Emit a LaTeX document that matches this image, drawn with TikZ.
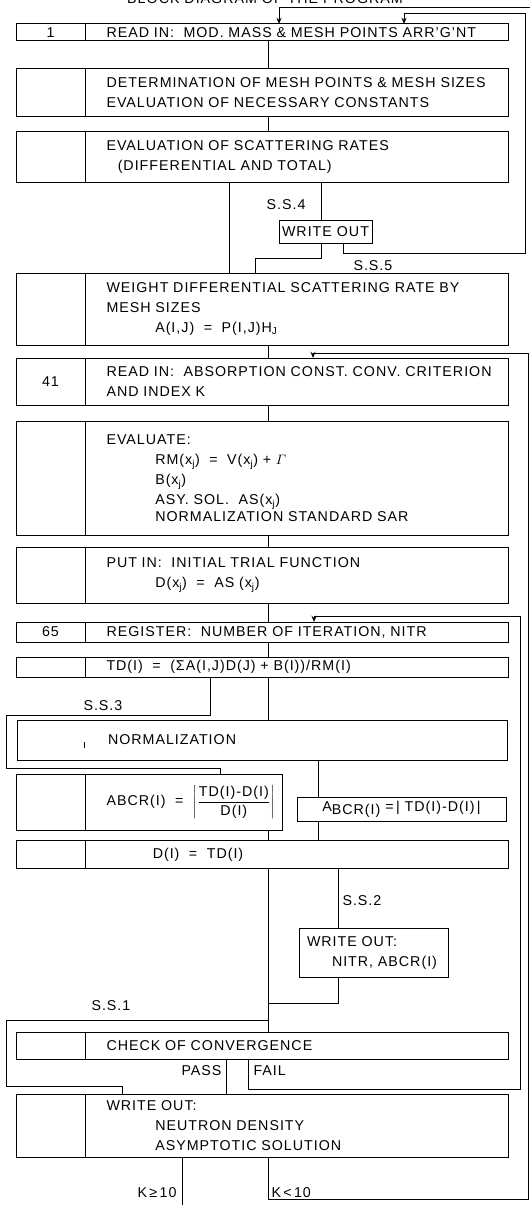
\documentclass[tikz,border=0pt]{standalone}
\usepackage{amsmath}
\usepackage{fontspec}
\setmainfont{Liberation Sans}[LetterSpace=7]
\usetikzlibrary{positioning,arrows.meta,calc}

\begin{document}
\begin{tikzpicture}[x=0.8pt,y=-0.8pt,
    font=\fontsize{11.4}{16}\selectfont, line width=0.8pt,
    body/.style={draw,outer sep=0pt,anchor=north west,text width=304pt,inner xsep=17.2pt,inner ysep=0pt,align=left,minimum height=#1},
    num/.style={draw,outer sep=0pt,inner sep=0pt,minimum width=55.2pt,minimum height=#1},
    outbox/.style={draw,outer sep=0pt,inner sep=0pt,anchor=north west},
    lbl/.style={inner sep=0pt},
    arr/.style={-{Stealth[length=5pt,width=4pt]}}
  ]
  \fill[white] (0,0) rectangle (530,1205);
  \useasboundingbox (0,0) rectangle (530,1205);

  % columns used by the connectors
  \foreach \n/\x in {spine/268, left4/229, ss4/321, jog4/255, ss5/343, back1/404, top1/279,
      in41/313, in65/314, ss3/210, into9/220, right10/318, ss2/338, pass/226, fail/248,
      ss1/122, kge/182.5}
    \coordinate (\n) at (\x,0);

  \node[lbl] (title) at (265,-1) {BLOCK DIAGRAM OF THE PROGRAM};

  % upper part
  \node[body=13.6pt] (b1) at (85,24) {\mbox{READ IN:\ \ MOD. MASS \& MESH POINTS ARR'G'NT}};
  \node[num=13.6pt,left=0pt of b1] (n1) {1};
  \node[body=38pt] (b2) at (85,69) {\mbox{DETERMINATION OF MESH POINTS \& MESH SIZES}\\
    EVALUATION OF NECESSARY CONSTANTS};
  \node[num=38pt,left=0pt of b2] (n2) {};
  \node[body=40.4pt] (b3) at (85,132) {EVALUATION OF SCATTERING RATES\\
    \hspace*{9pt}(DIFFERENTIAL AND TOTAL)};
  \node[num=40.4pt,left=0pt of b3] (n3) {};
  \node[outbox,minimum width=74.4pt,minimum height=18.4pt] (wo1) at (279,220) {WRITE OUT};
  \node[body=57.6pt] (b4) at (85,273) {\mbox{WEIGHT DIFFERENTIAL SCATTERING RATE BY}\\
    MESH SIZES\\
    \hspace*{39pt}A(I,J)\ \ =\ \ P(I,J)H\textsubscript{J}};
  \node[num=57.6pt,left=0pt of b4] (n4) {};

  % absorption constant loop
  \node[body=38pt] (b41) at (85,358) {\mbox{READ IN:\ \ ABSORPTION CONST. CONV. CRITERION}\\
    AND INDEX K};
  \node[num=38pt,left=0pt of b41] (n41) {41};
  \node[body=91.6pt] (b5) at (85,421) {EVALUATE:\\
    \hspace*{39pt}RM(x\textsubscript{j})\ \ =\ \ V(x\textsubscript{j}) + $\varGamma$\\
    \hspace*{39pt}B(x\textsubscript{j})\\
    \hspace*{39pt}ASY. SOL.\ \ AS(x\textsubscript{j})\\[-3pt]
    \hspace*{39pt}NORMALIZATION STANDARD SAR};
  \node[num=91.6pt,left=0pt of b5] (n5) {};
  \node[body=44.8pt] (b6) at (85,547) {PUT IN:\ \ INITIAL TRIAL FUNCTION\\
    \hspace*{39pt}D(x\textsubscript{j})\ \ =\ \ AS (x\textsubscript{j})};
  \node[num=44.8pt,left=0pt of b6] (n6) {};

  % iteration loop
  \node[body=16pt] (b65) at (85,622) {REGISTER:\ \ NUMBER OF ITERATION, NITR};
  \node[num=16pt,left=0pt of b65] (n65) {65};
  \node[body=16.4pt] (b7) at (85,657) {TD(I)\ \ =\ \ (ΣA(I,J)D(J) + B(I))/RM(I)};
  \node[num=16.4pt,left=0pt of b7] (n7) {};
  \node[draw,outer sep=0pt,anchor=north west,minimum width=392pt,minimum height=32pt,
    text width=246.4pt,inner xsep=72.8pt,inner ysep=0pt,align=left] (b8) at (17,720) {NORMALIZATION};
  \draw (b8.north west) ++(67,22) -- ++(0,6);
  \node[body=45.3pt,text width=123.2pt] (b9) at (85,774)
    {\mbox{ABCR(I)\ \ =\ \ $\left|\dfrac{\text{TD(I)-D(I)}}{\text{D(I)}}\right|$}};
  \node[num=45.3pt,left=0pt of b9] (n9) {};
  \node[outbox,minimum width=167.2pt,minimum height=18.8pt] (b10) at (297,797.5)
    {A\raisebox{-2.5pt}{BCR(I)}\ =\,|\ TD(I)-D(I)\,|};
  \node[body=22.9pt] (b11) at (85,840) {\hspace*{37pt}D(I)\ \ =\ \ TD(I)};
  \node[num=22.9pt,left=0pt of b11] (n11) {};
  \node[outbox,text width=106.4pt,inner xsep=6.4pt,minimum height=39.2pt,align=left] (wo2) at (299,928)
    {WRITE OUT:\\ \hspace*{20pt}NITR, ABCR(I)};
  \node[body=21.7pt] (b12) at (85,1032.5) {CHECK OF CONVERGENCE};
  \node[num=21.7pt,left=0pt of b12] (n12) {};
  \node[body=50.9pt] (b13) at (85,1094) {WRITE OUT:\\
    \hspace*{39pt}NEUTRON DENSITY\\
    \hspace*{39pt}ASYMPTOTIC SOLUTION};
  \node[num=50.9pt,left=0pt of b13] (n13) {};

  % labels
  \node[lbl,anchor=east] (lss4) at (306,204.5) {S.S.4};
  \node[lbl,anchor=south west] (lss5) at (353,271) {S.S.5};
  \node[lbl,anchor=west] (lss3) at (83,706) {S.S.3};
  \node[lbl,anchor=west] (lss2) at (342,901) {S.S.2};
  \node[lbl,anchor=west] (lss1) at (91,1006) {S.S.1};
  \node[lbl,anchor=east] (lpass) at (222,1071) {PASS};
  \node[lbl,anchor=west] (lfail) at (253,1071) {FAIL};
  \node[lbl,anchor=east] (lkge) at (177,1193) {K\,≥\,10};
  \node[lbl,anchor=west] (lklt) at (271,1193) {K\,<\,10};

  % connectors
  \coordinate (topin) at (530,7.5);
  \coordinate (exit) at (182.5,1205);
  \draw[arr] (topin) -| (b1.north -| top1);
  \draw (b1.south -| spine) -- (b2.north -| spine);
  \draw (b2.south -| spine) -- (b3.north -| spine);
  \draw (b3.south -| left4) -- (b4.north -| left4);
  \draw (b3.south -| ss4) -- (wo1.north -| ss4);
  \draw (wo1.south -| ss4) -- ++(0,15.6) -| (b4.north -| jog4);
  \draw[arr] (wo1.south -| ss5) -- ++(0,10.5) -| (525,14) -| (b1.north -| back1);
  \draw (b4.south -| spine) -- (b41.north -| spine);
  \draw (b41.south -| spine) -- (b5.north -| spine);
  \draw (b5.south -| spine) -- (b6.north -| spine);
  \draw (b6.south -| spine) -- (b65.north -| spine);
  \draw (b65.south -| spine) -- (b7.north -| spine);
  \draw (b7.south -| spine) -- (b8.north -| spine);
  \draw (b7.south -| ss3) |- (6,715.3) |- (220,768.7) -- (b9.north -| into9);
  \draw (b8.south -| right10) -- (b10.north -| right10);
  \draw (b9.south -| spine) -- (b11.north -| spine);
  \draw (b10.south -| right10) -- (b11.north -| right10);
  \draw (b11.south -| spine) -- (b12.north -| spine);
  \draw (b11.south -| ss2) -- (wo2.north -| ss2);
  \draw (wo2.south -| ss2) |- (268,1003.8);
  \draw (268,1020.7) -| (6,1086.6) -| (b13.north -| ss1);
  \draw (b12.south -| pass) -- (b13.north -| pass);
  \draw[arr] (b12.south -| fail) |- (520,1089) -- (520,616.6) -| (b65.north -| in65);
  \draw (b13.south -| kge) -- (exit);
  \draw[arr] (b13.south -| spine) |- (528.5,1199) -- (528.5,353) -| (b41.north -| in41);
\end{tikzpicture}
\end{document}
